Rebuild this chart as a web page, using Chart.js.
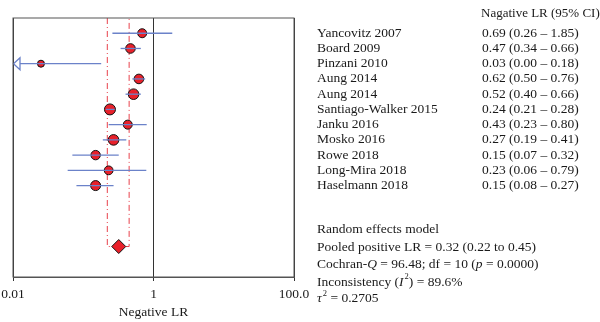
<!DOCTYPE html>
<html>
<head>
<meta charset="utf-8">
<script src="https://cdn.jsdelivr.net/npm/chart.js@4/dist/chart.umd.min.js"></script>
<style>
  html, body { margin: 0; padding: 0; background: #fff; }
  #wrap { width: 600px; height: 322px; }
</style>
</head>
<body>
<div id="wrap"><canvas id="forest" width="600" height="322"></canvas></div>
<script>
// Studies and their negative LR with 95% CI
const studies = ['Yancovitz 2007', 'Board 2009', 'Pinzani 2010', 'Aung 2014', 'Aung 2014',
  'Santiago-Walker 2015', 'Janku 2016', 'Mosko 2016', 'Rowe 2018', 'Long-Mira 2018', 'Haselmann 2018'];
const negLR = [0.69, 0.47, 0.025, 0.62, 0.52, 0.24, 0.43, 0.27, 0.15, 0.23, 0.15];
const ciLow = [0.26, 0.34, 0.00, 0.50, 0.40, 0.21, 0.23, 0.19, 0.07, 0.06, 0.08];
const ciHigh = [1.85, 0.66, 0.18, 0.76, 0.66, 0.28, 0.80, 0.41, 0.32, 0.79, 0.27];
const ciText = ['0.69 (0.26 – 1.85)', '0.47 (0.34 – 0.66)', '0.03 (0.00 – 0.18)', '0.62 (0.50 – 0.76)',
  '0.52 (0.40 – 0.66)', '0.24 (0.21 – 0.28)', '0.43 (0.23 – 0.80)', '0.27 (0.19 – 0.41)',
  '0.15 (0.07 – 0.32)', '0.23 (0.06 – 0.79)', '0.15 (0.08 – 0.27)'];
// study weights (relative, used for marker size)
const weights = [9, 9.6, 7, 9.6, 10.6, 11, 9, 10.6, 9.4, 8.8, 10];

// pooled estimate (random effects)
const pooled = 0.32;
const pooledLow = 0.22;
const pooledHigh = 0.45;
const pooledRow = 14;

const tickValues = [0.01, 1, 100];
const tickLabels = ['0.01', '1', '100.0'];

const FONT = '"Liberation Serif", "Times New Roman", serif';
const BLUE = '#6b82c9';
const RED = '#e8202a';
const DASH_RED = '#e8424c';

// draw text made of plain / italic / superscript pieces
function richText(ctx, parts, x, y) {
  let cx = x;
  parts.forEach(p => {
    const style = p.i ? 'italic ' : '';
    const size = p.sup ? 8.5 : 13.5;
    ctx.font = style + size + 'px ' + FONT;
    if (p.sup) cx += 1;
    ctx.fillText(p.t, cx, p.sup ? y - 5 : y);
    cx += ctx.measureText(p.t).width;
  });
}

const forestPlugin = {
  id: 'forest',
  beforeDatasetsDraw(chart) {
    const ctx = chart.ctx;
    const xs = chart.scales.x, ys = chart.scales.y;
    const area = chart.chartArea;
    const yp = ys.getPixelForValue(pooledRow);
    // pooled CI reference lines (dash-dot)
    ctx.save();
    ctx.strokeStyle = DASH_RED;
    ctx.lineWidth = 1;
    ctx.setLineDash([6, 3, 1, 3]);
    const xl = xs.getPixelForValue(pooledLow), xh = xs.getPixelForValue(pooledHigh);
    ctx.beginPath();
    ctx.moveTo(xl, area.top); ctx.lineTo(xl, yp); ctx.lineTo(xh, yp); ctx.lineTo(xh, area.top);
    ctx.stroke();
    ctx.restore();
  },
  afterDatasetsDraw(chart) {
    const ctx = chart.ctx;
    const xs = chart.scales.x, ys = chart.scales.y;
    const area = chart.chartArea;
    ctx.save();
    ctx.strokeStyle = BLUE;
    ctx.lineWidth = 1.3;
    studies.forEach((s, i) => {
      const y = ys.getPixelForValue(i);
      let x0;
      if (ciLow[i] <= xs.min) {
        // open arrow at the left edge
        x0 = area.left + 7;
        ctx.beginPath();
        ctx.moveTo(x0, y - 6); ctx.lineTo(area.left + 0.5, y); ctx.lineTo(x0, y + 6); ctx.closePath();
        ctx.stroke();
      } else {
        x0 = xs.getPixelForValue(ciLow[i]);
      }
      const x1 = xs.getPixelForValue(ciHigh[i]);
      ctx.beginPath();
      ctx.moveTo(x0, y); ctx.lineTo(x1, y);
      ctx.stroke();
    });
    // plot frame
    ctx.strokeStyle = '#555';
    ctx.lineWidth = 1;
    ctx.strokeRect(area.left, area.top, area.right - area.left, area.bottom - area.top);
    ctx.restore();
  },
  afterDraw(chart) {
    const ctx = chart.ctx;
    const ys = chart.scales.y;
    ctx.save();
    ctx.fillStyle = '#1a1a1a';
    ctx.textBaseline = 'middle';
    ctx.font = '13px ' + FONT;
    ctx.fillText('Nagative LR (95% CI)', 481, 14);
    ctx.font = '13.5px ' + FONT;
    studies.forEach((s, i) => {
      const y = ys.getPixelForValue(i);
      ctx.fillText(s, 317, y);
      ctx.fillText(ciText[i], 482, y);
    });
    richText(ctx, [{ t: 'Random effects model' }], 317, 229.5);
    richText(ctx, [{ t: 'Pooled positive LR = 0.32 (0.22 to 0.45)' }], 317, 247);
    richText(ctx, [{ t: 'Cochran-' }, { t: 'Q', i: true }, { t: ' = 96.48; df = 10 (' }, { t: 'p', i: true }, { t: ' = 0.0000)' }], 317, 264.5);
    richText(ctx, [{ t: 'Inconsistency (' }, { t: 'I', i: true }, { t: '2', sup: true }, { t: ') = 89.6%' }], 317, 282);
    richText(ctx, [{ t: 'τ', i: true }, { t: '2', sup: true }, { t: ' = 0.2705' }], 317, 298.5);
    ctx.restore();
  }
};

new Chart(document.getElementById('forest').getContext('2d'), {
  type: 'scatter',
  data: {
    datasets: [
      {
        label: 'Studies',
        data: negLR.map((v, i) => ({ x: v, y: i })),
        pointRadius: weights.map(w => w / 2),
        backgroundColor: RED,
        borderColor: '#111',
        borderWidth: 1
      },
      {
        label: 'Pooled',
        data: [{ x: pooled, y: pooledRow }],
        pointStyle: 'rectRot',
        pointRadius: 7,
        backgroundColor: RED,
        borderColor: '#111',
        borderWidth: 1
      }
    ]
  },
  options: {
    responsive: false,
    animation: false,
    layout: { padding: { left: 13, right: 306, top: 18, bottom: 0 } },
    plugins: {
      legend: { display: false },
      tooltip: { enabled: false }
    },
    scales: {
      x: {
        type: 'logarithmic',
        position: 'bottom',
        min: 0.01,
        max: 100,
        afterBuildTicks: axis => { axis.ticks = tickValues.map(v => ({ value: v })); },
        afterFit: scale => {
          scale.height = 45;
          scale.paddingLeft = 0;
          scale.paddingRight = 0;
        },
        ticks: {
          autoSkip: false,
          maxRotation: 0,
          minRotation: 0,
          padding: 5,
          color: '#1a1a1a',
          font: { family: FONT, size: 13.5 },
          callback: (v, i) => tickLabels[i]
        },
        grid: {
          color: '#333',
          lineWidth: 1,
          tickLength: 4
        },
        border: { color: '#555' },
        title: {
          display: true,
          text: 'Negative LR',
          color: '#1a1a1a',
          font: { family: FONT, size: 13.5 },
          padding: { top: 0, bottom: 1 }
        }
      },
      y: {
        type: 'linear',
        display: false,
        min: -1,
        max: 16,
        reverse: true
      }
    }
  },
  plugins: [forestPlugin]
});
</script>
</body>
</html>
